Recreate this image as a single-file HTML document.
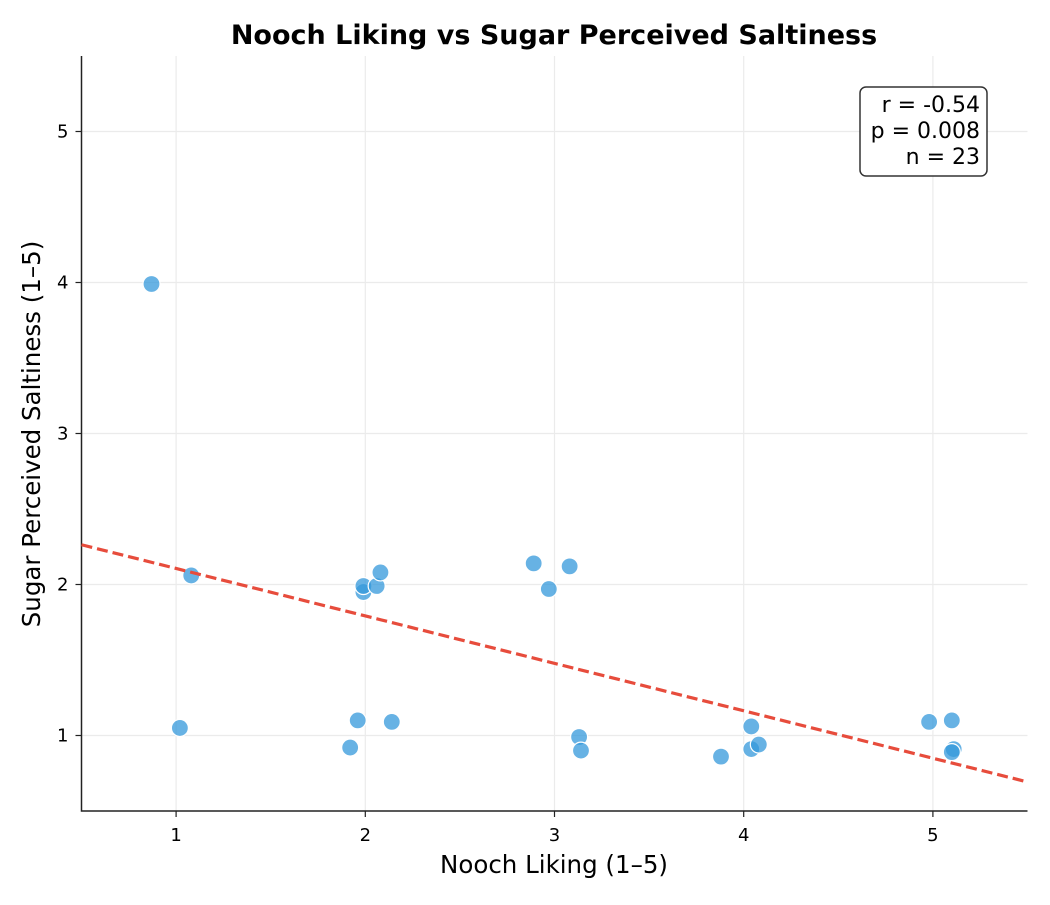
<!DOCTYPE html>
<html><head><meta charset="utf-8"><style>
body{margin:0;background:#fff;font-family:"Liberation Sans","DejaVu Sans",sans-serif}
svg text{font-family:"DejaVu Sans","Liberation Sans",sans-serif}
</style></head><body>
<svg id="c" width="1050" height="900">
<text x="554" y="44" text-anchor="middle" font-size="27" font-weight="bold">Nooch Liking vs Sugar Perceived Saltiness</text>
<g id="grid"></g><g id="axes"></g><g id="pts"></g><g id="fit"></g>
<text x="554" y="873" text-anchor="middle" font-size="24.5">Nooch Liking (1–5)</text>
<text transform="translate(40,434) rotate(-90)" text-anchor="middle" font-size="24.5">Sugar Perceived Saltiness (1–5)</text>
<g>
<rect x="860" y="87" width="127" height="89" rx="6" fill="#fff" stroke="#333" stroke-width="1.5"/>
<text x="980" y="112" text-anchor="end" font-size="22">r = -0.54</text>
<text x="980" y="138" text-anchor="end" font-size="22">p = 0.008</text>
<text x="980" y="164" text-anchor="end" font-size="22">n = 23</text>
</g>
</svg>
<script>
const xVals=[0.87,1.08,1.02,1.99,1.99,2.06,2.08,1.96,1.92,2.14,2.89,2.97,3.08,3.13,3.14,3.88,4.04,4.04,4.08,4.98,5.10,5.11,5.10];
const yVals=[3.99,2.06,1.05,1.95,1.99,1.99,2.08,1.10,0.92,1.09,2.14,1.97,2.12,0.99,0.90,0.86,1.06,0.91,0.94,1.09,1.10,0.91,0.89];
const xTicks=[1,2,3,4,5];
const yTicks=[1,2,3,4,5];
const X0=81.5,X1=1027.5,Y0=811,Y1=56,xmin=0.5,xmax=5.5,ymin=0.5,ymax=5.5;
const sx=v=>X0+(v-xmin)/(xmax-xmin)*(X1-X0);
const sy=v=>Y0-(v-ymin)/(ymax-ymin)*(Y0-Y1);
const NS='http://www.w3.org/2000/svg';
function mk(tag,attrs,parent){const e=document.createElementNS(NS,tag);for(const k in attrs)e.setAttribute(k,attrs[k]);document.getElementById(parent).appendChild(e);return e;}
xTicks.forEach(t=>{
 const g=mk('line',{x1:sx(t),x2:sx(t),y1:Y1,y2:Y0,stroke:'#ebebeb','stroke-width':1.2},'grid');
 
 
 mk('line',{x1:sx(t),x2:sx(t),y1:Y0,y2:Y0+6,stroke:'#222','stroke-width':1.2},'axes');
 const tx=mk('text',{x:sx(t),y:Y0+30,'text-anchor':'middle','font-size':18},'axes');tx.textContent=t;
 
 
});
yTicks.forEach(t=>{
 const g=mk('line',{x1:X0,x2:X1,y1:sy(t),y2:sy(t),stroke:'#ebebeb','stroke-width':1.2},'grid');
 
 
 mk('line',{x1:X0-6,x2:X0,y1:sy(t),y2:sy(t),stroke:'#222','stroke-width':1.2},'axes');
 const tx=mk('text',{x:X0-13,y:sy(t)+6,'text-anchor':'end','font-size':18},'axes');tx.textContent=t;
 
 
});
const ax=mk('path',{d:`M${X0},${Y1}V${Y0}H${X1}`,fill:'none',stroke:'#222','stroke-width':1.5},'axes');


xVals.forEach((x,i)=>{
 const c=mk('circle',{cx:sx(x),cy:sy(yVals[i]),r:8.5,fill:'#3498db','fill-opacity':0.75,stroke:'#fff','stroke-width':1.2},'pts');
 
 
});
const n=xVals.length,mx=xVals.reduce((a,b)=>a+b)/n,my=yVals.reduce((a,b)=>a+b)/n;
let sxy=0,sxx=0;xVals.forEach((x,i)=>{sxy+=(x-mx)*(yVals[i]-my);sxx+=(x-mx)**2;});
const b=sxy/sxx,a=my-b*mx;
const l=mk('line',{x1:sx(xmin),y1:sy(a+b*xmin),x2:sx(xmax),y2:sy(a+b*xmax),stroke:'#e74c3c','stroke-width':3.2,'stroke-dasharray':'11,5'},'fit');


</script>
</body></html>
